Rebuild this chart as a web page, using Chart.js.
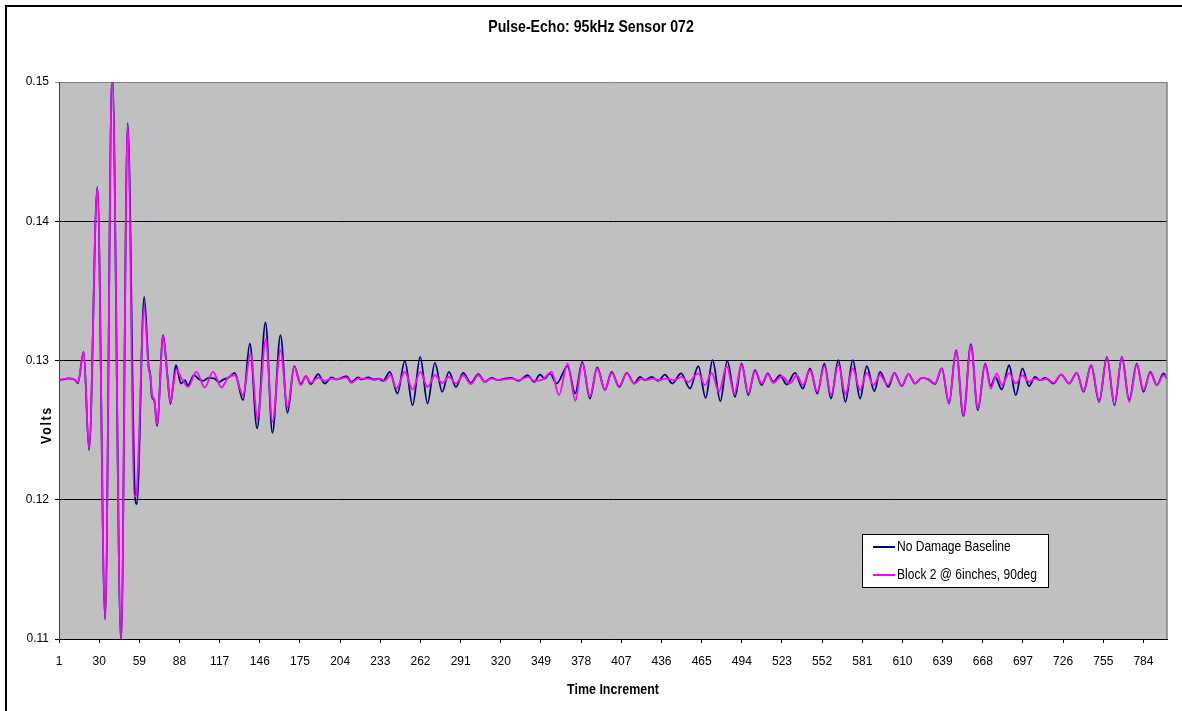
<!DOCTYPE html>
<html>
<head>
<meta charset="utf-8">
<title>Pulse-Echo: 95kHz Sensor 072</title>
<script src="https://cdn.jsdelivr.net/npm/chart.js@4.4.1/dist/chart.umd.min.js"></script>
<style>
  html,body{margin:0;padding:0;background:#fff}
  #wrap{position:relative;width:1182px;height:711px}
  #frame{position:absolute;left:5px;top:5px;right:0;bottom:0;border-top:2px solid #000;border-left:2px solid #000;pointer-events:none}
</style>
</head>
<body>
<div id="wrap">
  <canvas id="chart" width="1182" height="711"></canvas>
  <div id="frame"></div>
</div>
<script>
// dados (picos e vales de cada curva)
const xTicks = [1,30,59,88,117,146,175,204,233,262,291,320,349,378,407,436,465,494,523,552,581,610,639,668,697,726,755,784];
const yTicks = [0.11,0.12,0.13,0.14,0.15];

const baseX = [1,4,8,11,13,14.6,18.8,22.7,28.7,34.3,39.4,45.8,50.6,55.8,57.2,62.5,65.7,66.9,68.1,69.8,71.8,76.2,79.1,81.5,83.2,85.4,89.1,92,94,98.5,102,105,109,113,116.5,120,123.5,127.9,
  133.9,138.8,144,150.1,155.1,160.9,166,170.8,175.6,179.2,182.8,188.1,192.9,197.8,201.4,208.6,212.2,217,219.4,224.2,228.8,231.4,235,
  239.9,245.4,250.7,256.3,261.8,267.1,272.4,277.7,282.5,287.6,292.8,298.4,303.7,308.5,313.3,318.1,322.9,327.8,332.6,339.3,344.1,348.2,351.8,355.4,360.3,368.2,
  373.7,378.8,384.3,389.6,395.2,400,405.5,410.9,416.3,420.5,424.1,428.9,433.7,438.5,443.8,450.1,456.6,462.6,467.9,472.9,478.5,483.5,489.1,493.9,498.7,503.5,508.4,512.7,
  516.7,521.6,526.4,532.4,538,543.3,548.5,553.6,558.4,563.7,568.8,574.1,579.4,584.2,589.7,593.8,599.8,604.2,609.5,614.3,619.1,624,628.7,633.5,638.4,643.6,
  648.7,654,659.4,664.4,669.7,673.8,676.9,681.7,687,691.8,696.6,701.4,705.7,709.4,713,719,724.6,730.3,735.9,740.7,746.2,752,757.6,763.1,768.4,773.7,779.2,784,788.9,793.7,798.5,801];
const baseY = [0.12859,0.12864,0.12871,0.12866,0.12856,0.12836,0.13062,0.12356,0.14246,0.11141,0.1508,0.1097,0.14704,0.12045,0.11969,0.13457,0.12961,0.12896,0.12739,0.12713,0.1253,0.13182,0.12909,0.12687,0.12804,0.12966,0.12835,0.12859,0.1282,0.12894,0.12866,0.12854,0.12875,0.12872,0.12845,0.12865,0.12878,0.12911,
  0.12715,0.13122,0.12512,0.13273,0.1248,0.13182,0.12624,0.12959,0.1283,0.12887,0.1283,0.12902,0.12835,0.12878,0.12864,0.12887,0.12846,0.12878,0.12864,0.12878,0.12864,0.1287,0.12854,
  0.12918,0.12763,0.12997,0.12679,0.13026,0.12691,0.12983,0.12775,0.12918,0.1281,0.12911,0.12839,0.12902,0.12846,0.12875,0.12859,0.1287,0.12875,0.12854,0.12894,0.12846,0.12899,0.1287,0.12907,0.12835,0.1296,
  0.12763,0.1299,0.12727,0.1295,0.12787,0.12918,0.1281,0.12911,0.12835,0.12882,0.12859,0.12882,0.12854,0.12899,0.12835,0.12907,0.12799,0.12959,0.12732,0.13002,0.12708,0.12997,0.12739,0.12978,0.12751,0.1293,0.12823,0.12907,
  0.12846,0.12894,0.12827,0.12911,0.12799,0.12943,0.12763,0.12978,0.12727,0.13002,0.12703,0.13002,0.12727,0.12959,0.1278,0.12918,0.1281,0.12911,0.12816,0.12902,0.12835,0.12875,0.12864,0.1283,0.12943,0.12691,
  0.13074,0.126,0.13117,0.12643,0.12978,0.12816,0.12882,0.12792,0.12966,0.12751,0.12943,0.12816,0.12882,0.12859,0.12875,0.12835,0.12899,0.12835,0.12911,0.12775,0.12966,0.12703,0.13026,0.12679,0.13026,0.12715,0.12978,0.12775,0.12918,0.12823,0.12907,0.1287];

const blockX = [1,4,8,11,13,14.6,18.8,22.7,28.7,34.3,39.4,45.8,50.6,55.5,56.8,62.5,65.7,67,68.3,69.8,71.8,76.2,79.1,81.5,83.3,85.8,89.5,94.2,100.2,106.2,112.2,118.3,123.1,127.9,
  133.9,139.3,144.3,150.3,155.1,160.9,166,170.8,175.6,179.2,182.8,188.1,192.9,197.8,201.4,208.6,212.2,217,224.2,228.8,232.6,236.3,
  240.3,244.7,250.7,256.3,261.8,267.1,272.4,277.7,282.5,287.6,292.8,298.4,303.7,308.5,313.3,318.1,322.9,327.8,332.6,339.8,344.1,349.4,356.7,361.9,368.2,
  373.8,378.8,384.3,389.6,395.2,400,405.5,410.9,416.3,421.7,425.3,430.1,433.7,439.7,445.7,450.6,455.3,462.6,467.4,472.2,477.5,483.1,488.6,493.9,498.7,503.5,508.4,512.7,
  516.7,522.8,528.8,533.7,538,543.3,548.5,553.6,558.4,563.7,568.8,574.1,579.4,584.2,589,593.8,599.4,604.2,609.5,614.3,619.1,624,628.7,633.5,638.4,643.6,
  648.7,654,659.4,664.4,669.7,673.8,678.1,681.7,687,691.8,696.6,701.4,705.7,710.1,714.2,719,724.6,730.3,735.9,740.7,746.2,752,757.6,763.1,768.4,773.7,779.2,784,788.9,793.7,798.5,801];
const blockY = [0.12859,0.12866,0.12871,0.12868,0.12858,0.1284,0.13058,0.12365,0.1424,0.1115,0.1508,0.1097,0.1469,0.12021,0.12035,0.13379,0.1294,0.1289,0.12745,0.1272,0.1254,0.13175,0.12905,0.12695,0.12815,0.12935,0.12871,0.1281,0.12918,0.12806,0.12918,0.12806,0.12878,0.12894,
  0.12751,0.1305,0.12584,0.13151,0.12559,0.13074,0.12663,0.12954,0.12823,0.12887,0.12839,0.12878,0.12854,0.1287,0.12864,0.12878,0.12839,0.1287,0.1287,0.12859,0.1287,0.12854,
  0.12895,0.12799,0.12918,0.12792,0.12918,0.1281,0.12894,0.12839,0.12882,0.12835,0.12894,0.1283,0.12894,0.12846,0.1287,0.12859,0.12864,0.1287,0.12859,0.12882,0.12854,0.12859,0.12918,0.12751,0.12978,
  0.1271,0.12983,0.12739,0.12943,0.12787,0.12911,0.12816,0.12907,0.12835,0.1287,0.12859,0.1287,0.12859,0.1287,0.12859,0.12882,0.12846,0.12907,0.12823,0.12911,0.12775,0.12959,0.12763,0.12971,0.12763,0.12923,0.12835,0.12902,
  0.12839,0.12887,0.12835,0.12894,0.12823,0.1293,0.12775,0.12959,0.12751,0.12971,0.12758,0.12943,0.12787,0.12911,0.12823,0.12894,0.12823,0.12907,0.12816,0.12902,0.12835,0.12875,0.12864,0.12835,0.12943,0.12696,
  0.13069,0.12607,0.1311,0.12655,0.12971,0.12799,0.12907,0.12823,0.12907,0.12835,0.12894,0.12846,0.1287,0.12859,0.1287,0.12839,0.12899,0.12835,0.12911,0.1278,0.12966,0.12708,0.13022,0.12686,0.13022,0.12703,0.12971,0.12787,0.12911,0.12823,0.12894,0.12882];

const FONT = "'Liberation Sans',Arial,sans-serif";

function pts(xs, ys){ return xs.map((x,i)=>({x:x, y:ys[i]})); }

// texto estreito (imitando a fonte comprimida do Excel)
function narrowText(ctx, txt, x, y, sx){
  ctx.save();
  ctx.translate(x, y); ctx.scale(sx, 1);
  ctx.fillText(txt, 0, 0);
  ctx.restore();
}

// fundo cinza da área do gráfico + textos + legenda
const excelLook = {
  id:'excelLook',
  beforeDraw(chart){
    const {ctx, chartArea:a} = chart;
    ctx.save();
    ctx.fillStyle = '#C0C0C0';
    ctx.fillRect(a.left, a.top, a.right-a.left, a.bottom-a.top);
    ctx.restore();
  },
  afterDatasetsDraw(chart){
    const {ctx, chartArea:a} = chart;
    ctx.save();
    ctx.strokeStyle = '#808080'; ctx.lineWidth = 1.5;
    ctx.beginPath(); ctx.moveTo(a.right, a.top); ctx.lineTo(a.right, a.bottom); ctx.stroke();
    ctx.restore();
  },
  afterDraw(chart){
    const {ctx, chartArea:a} = chart;
    ctx.save();
    ctx.fillStyle = '#000';
    ctx.textAlign = 'center'; ctx.textBaseline = 'middle';
    ctx.font = 'bold 17px ' + FONT;
    narrowText(ctx, 'Pulse-Echo: 95kHz Sensor 072', chart.width/2, 27, 0.83);
    ctx.font = 'bold 15px ' + FONT;
    narrowText(ctx, 'Time Increment', (a.left+a.right)/2, 690, 0.83);
    // rótulo do eixo y
    ctx.translate(47, 425); ctx.rotate(-Math.PI/2);
    ctx.letterSpacing = '2px';
    narrowText(ctx, 'Volts', 0, 0, 0.83);
    ctx.restore();

    // legenda
    const lx = 862, ly = 534, lw = 186, lh = 53;
    ctx.save();
    ctx.fillStyle = '#fff'; ctx.fillRect(lx, ly, lw, lh);
    ctx.strokeStyle = '#000'; ctx.lineWidth = 1; ctx.strokeRect(lx+0.5, ly+0.5, lw, lh);
    ctx.font = '14.5px ' + FONT; ctx.textBaseline = 'middle'; ctx.textAlign = 'left';
    const order = [1,0];
    order.forEach((di, i) => {
      const ds = chart.data.datasets[di];
      const y = ly + 13 + i*28;
      ctx.strokeStyle = ds.borderColor; ctx.lineWidth = 2;
      ctx.beginPath(); ctx.moveTo(lx+11, y); ctx.lineTo(lx+33, y); ctx.stroke();
      ctx.fillStyle = '#000';
      narrowText(ctx, ds.label, lx+35, y, 0.83);
    });
    ctx.restore();
  }
};

new Chart(document.getElementById('chart'), {
  type:'line',
  data:{
    datasets:[
      {label:'Block 2 @ 6inches, 90deg', data:pts(blockX, blockY), borderColor:'#FF00FF', borderWidth:1.8, pointRadius:0, cubicInterpolationMode:'monotone', order:0},
      {label:'No Damage Baseline', data:pts(baseX, baseY), borderColor:'#000080', borderWidth:1.8, pointRadius:0, cubicInterpolationMode:'monotone', order:1}
    ]
  },
  options:{
    responsive:false, animation:false,
    layout:{padding:{left:0, top:82, right:15, bottom:0}},
    plugins:{legend:{display:false}, tooltip:{enabled:false}, title:{display:false}},
    scales:{
      x:{
        type:'linear', min:1, max:801,
        afterBuildTicks(s){ s.ticks = xTicks.map(v=>({value:v})); },
        afterFit(s){ s.height = 72; },
        ticks:{color:'#000', font:{family:FONT, size:12}, autoSkip:false, maxRotation:0, padding:11, callback:v=>String(v)},
        grid:{drawOnChartArea:false, drawTicks:true, tickLength:4, color:'#000'},
        border:{display:true, color:'#000', width:1}
      },
      y:{
        min:0.11, max:0.15,
        afterBuildTicks(s){ s.ticks = yTicks.map(v=>({value:v})); },
        afterFit(s){ s.width = 59; },
        ticks:{color:'#000', font:{family:FONT, size:12}, padding:6, callback:v=>v.toFixed(2)},
        grid:{color:c=>(c.tick && Math.abs(c.tick.value-0.15)<1e-6) ? '#808080' : '#000', lineWidth:1, tickLength:4, drawTicks:true},
        border:{display:true, color:'#404040', width:1}
      }
    }
  },
  plugins:[excelLook]
});
</script>
</body>
</html>
